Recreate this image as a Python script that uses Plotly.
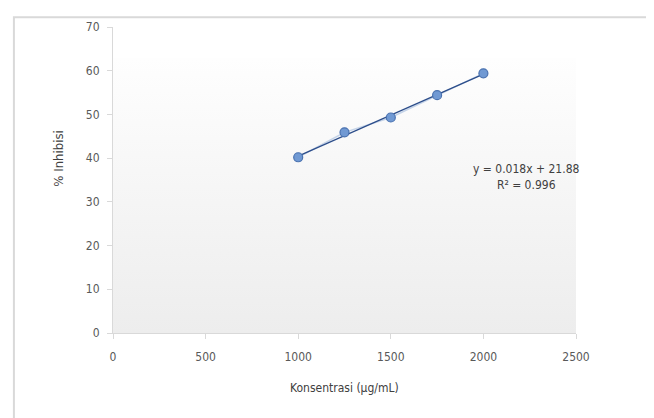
import numpy as np
import plotly.graph_objects as go

# Data
konsentrasi = [1000, 1250, 1500, 1750, 2000]
inhibisi = [40.2, 45.9, 49.3, 54.4, 59.4]
x_ticks = [0, 500, 1000, 1500, 2000, 2500]
y_ticks = [0, 10, 20, 30, 40, 50, 60, 70]
equation_text = "y = 0.018x + 21.88<br>R² = 0.996"

slope, intercept = np.polyfit(konsentrasi, inhibisi, 1)
trend_x = [min(konsentrasi), max(konsentrasi)]
trend_y = [slope * v + intercept for v in trend_x]

FONT = "Liberation Sans Narrow, DejaVu Sans Condensed, sans-serif"

fig = go.Figure()

# thin connecting line between points
fig.add_trace(go.Scatter(
    x=konsentrasi, y=inhibisi, mode="lines",
    line=dict(color="rgba(160,185,220,0.6)", width=1.5),
    hoverinfo="skip", showlegend=False))

# trendline
fig.add_trace(go.Scatter(
    x=trend_x, y=trend_y, mode="lines",
    line=dict(color="#2c4d8a", width=1.2),
    showlegend=False))

# markers
fig.add_trace(go.Scatter(
    x=konsentrasi, y=inhibisi, mode="markers",
    marker=dict(size=9, color="#7099d3", line=dict(color="#4a72b0", width=1.2)),
    showlegend=False))

svg = ("data:image/svg+xml;utf8,<svg xmlns='http://www.w3.org/2000/svg' width='100' height='100' preserveAspectRatio='none'>"
       "<defs><linearGradient id='g' x1='0' y1='0' x2='0' y2='1'>"
       "<stop offset='0' stop-color='%23fefefe'/><stop offset='1' stop-color='%23ededed'/>"
       "</linearGradient></defs><rect width='100' height='100' fill='url(%23g)'/></svg>")

fig.update_layout(
    width=646, height=410,
    margin=dict(l=105, r=78, t=16, b=85),
    paper_bgcolor="white", plot_bgcolor="rgba(0,0,0,0)",
    font=dict(family=FONT, size=12, color="#595959"),
    images=[dict(source=svg, xref="paper", yref="paper",
                 x=0, y=0.9, sizex=1, sizey=0.9,
                 xanchor="left", yanchor="top", sizing="stretch", layer="below")],
    shapes=[dict(type="rect", xref="paper", yref="paper",
                 x0=-0.214, y0=-0.4, x1=1.3, y1=1.032,
                 line=dict(color="#d9d9d9", width=2), layer="below")],
    annotations=[
        dict(text=equation_text, xref="x", yref="y", x=2230, y=35.6,
             showarrow=False, align="center",
             font=dict(family=FONT, size=12, color="#404040")),
        dict(text="% Inhibisi", xref="paper", yref="paper",
             x=-0.137, y=0.57, textangle=-90, showarrow=False,
             font=dict(family=FONT, size=13, color="#404040")),
        dict(text="Konsentrasi (µg/mL)", xref="paper", yref="paper",
             x=0.5, y=-0.21, showarrow=False,
             font=dict(family=FONT, size=12, color="#404040")),
    ],
)

fig.update_xaxes(range=[0, 2500], tickvals=x_ticks, showgrid=False, zeroline=False,
                 showline=True, linecolor="#d9d9d9", linewidth=1,
                 ticks="outside", ticklen=5, tickcolor="#d9d9d9",
                 ticklabelstandoff=8,
                 tickfont=dict(family=FONT, size=12, color="#595959"))
fig.update_yaxes(range=[0, 70], tickvals=y_ticks, showgrid=False, zeroline=False,
                 showline=True, linecolor="#d9d9d9", linewidth=1,
                 ticks="outside", ticklen=5, tickcolor="#d9d9d9",
                 ticklabelstandoff=5,
                 tickfont=dict(family=FONT, size=12, color="#595959"))

fig.write_html("out.html")
